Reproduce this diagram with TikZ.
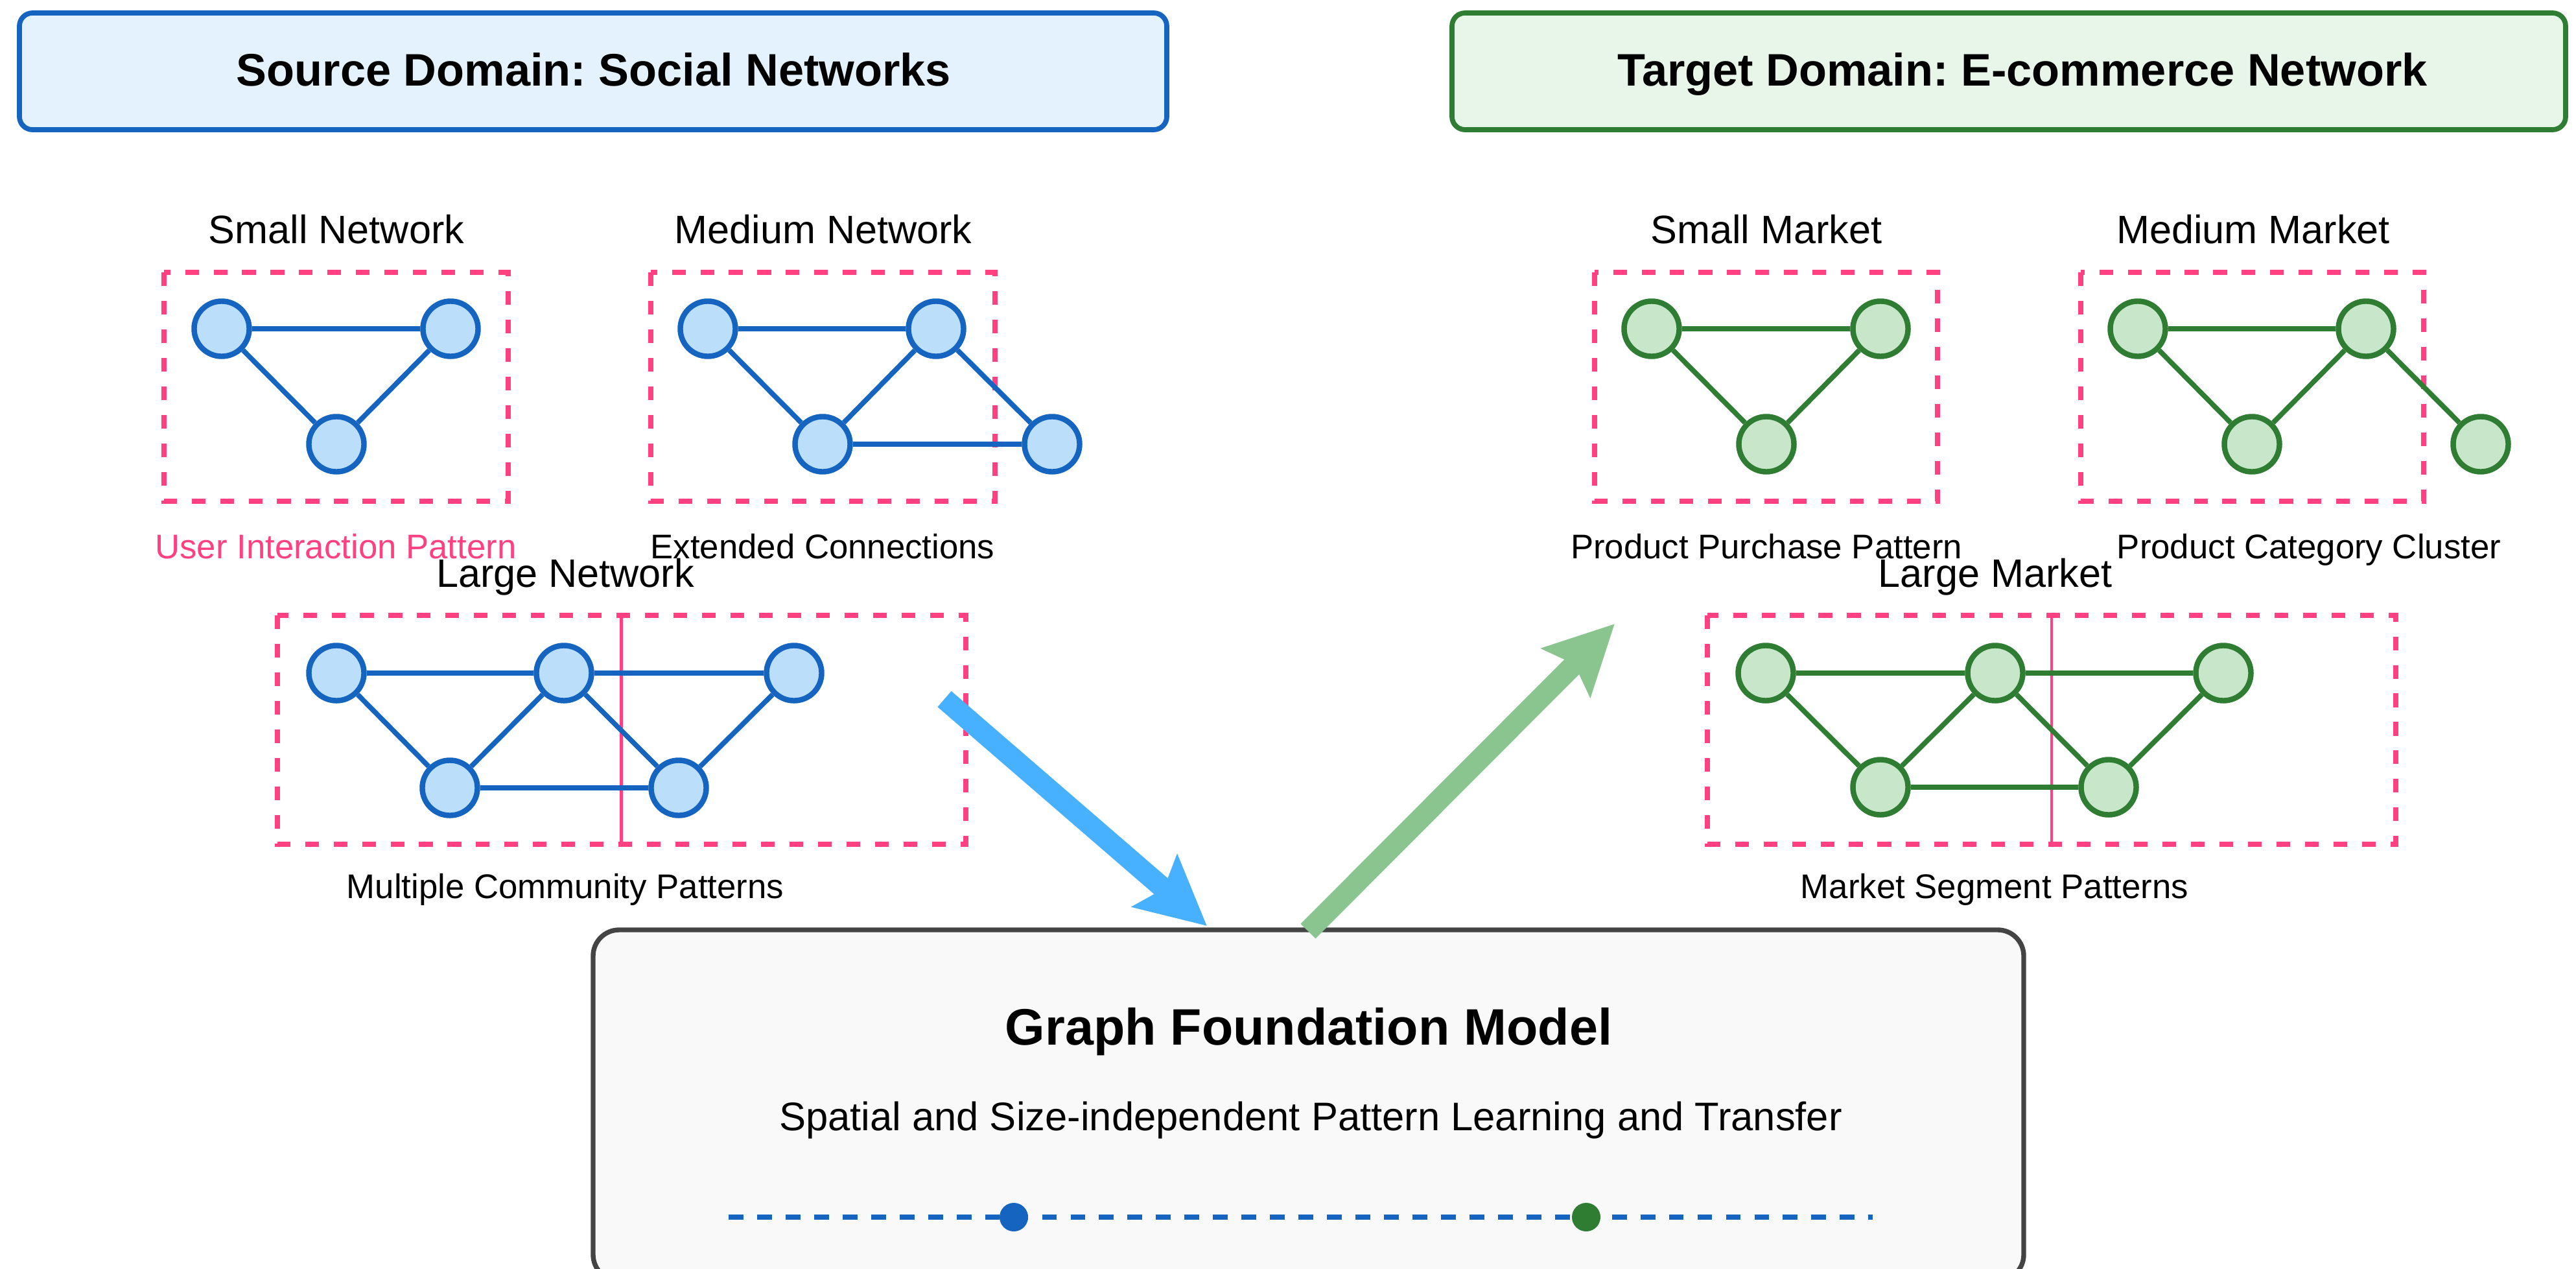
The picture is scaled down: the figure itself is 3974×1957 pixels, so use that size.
\documentclass[tikz,border=0pt]{standalone}
\usepackage{fontspec}
\setmainfont{Liberation Sans}
\usetikzlibrary{arrows.meta}

\definecolor{srcfill}{HTML}{E3F2FD}
\definecolor{srcline}{HTML}{1565C0}
\definecolor{tgtfill}{HTML}{E8F5E9}
\definecolor{tgtline}{HTML}{2E7D32}
\definecolor{srcnode}{HTML}{BBDEFB}
\definecolor{tgtnode}{HTML}{C8E6C9}
\definecolor{patpink}{HTML}{FF4081}
\definecolor{modelfill}{HTML}{F9F9F9}
\definecolor{modelline}{HTML}{444444}
\definecolor{flowblue}{RGB}{72,177,255}
\definecolor{flowgreen}{RGB}{138,196,143}

\begin{document}
\frenchspacing
\begin{tikzpicture}[x=0.01cm, y=-0.01cm,
  header/.style={line width=2.2pt, rounded corners=5.7pt},
  headtext/.style={anchor=base, font=\fontsize{20}{24}\selectfont\bfseries},
  sizelabel/.style={anchor=base, font=\fontsize{17.4}{21}\selectfont},
  patlabel/.style={anchor=base, font=\fontsize{15}{18}\selectfont},
  patbox/.style={draw=patpink, line width=2.3pt, dash pattern=on 6pt off 6.5pt},
  snode/.style={circle, draw=srcline, fill=srcnode, line width=2.4pt, minimum size=0.85cm, inner sep=0pt},
  tnode/.style={circle, draw=tgtline, fill=tgtnode, line width=2.4pt, minimum size=0.85cm, inner sep=0pt},
  sedge/.style={draw=srcline, line width=2.2pt},
  tedge/.style={draw=tgtline, line width=2.2pt},
  flow/.style={line width=9.2pt, -{Stealth[length=30pt, width=29.6pt, inset=5pt]}},
]
\useasboundingbox (0,0) rectangle (3974,1957);
\clip (0,0) rectangle (3974,1957);

% ---------- domain headers ----------
\draw[header, draw=srcline, fill=srcfill] (30,20) rectangle (1800,200);
\node[headtext] (srctitle) at (916,132) {Source Domain: Social Networks};
\draw[header, draw=tgtline, fill=tgtfill] (2240,20) rectangle (3958,200);
\node[headtext] (tgttitle) at (3120,132) {Target Domain: E-commerce Network};

% ---------- source: small network ----------
\node[sizelabel] (smallnet) at (519,375) {Small Network};
\draw[patbox] (253,420) rectangle (784,773);
\node[snode] (s1) at (342,507) {};
\node[snode] (s2) at (695,507) {};
\node[snode] (s3) at (519,685) {};
\draw[sedge] (s1) -- (s2) (s1) -- (s3) (s2) -- (s3);
\node[patlabel, text=patpink] (smallpat) at (518,861) {User Interaction Pattern};

% ---------- source: medium network ----------
\node[sizelabel] (mednet) at (1270,375) {Medium Network};
\draw[patbox] (1004,420) rectangle (1535,773);
\node[snode] (m1) at (1092,507) {};
\node[snode] (m2) at (1444,507) {};
\node[snode] (m3) at (1269,685) {};
\node[snode] (m4) at (1623,685) {};
\draw[sedge] (m1) -- (m2) (m1) -- (m3) (m2) -- (m3) (m2) -- (m4) (m3) -- (m4);
\node[patlabel] (medpat) at (1269,861) {Extended Connections};

% ---------- source: large network ----------
\node[sizelabel] (largenet) at (872,905) {Large Network};
\draw[patbox] (428,949) rectangle (1490,1302);
\draw[draw=patpink, line width=1.4pt] (958.5,949) -- (958.5,1302);
\node[snode] (l1) at (519,1038) {};
\node[snode] (l2) at (870,1038) {};
\node[snode] (l3) at (1225,1038) {};
\node[snode] (l4) at (694,1215) {};
\node[snode] (l5) at (1047,1215) {};
\draw[sedge] (l1) -- (l2) (l2) -- (l3) (l1) -- (l4) (l2) -- (l4)
             (l2) -- (l5) (l3) -- (l5) (l4) -- (l5);
\node[patlabel] (largepat) at (872,1385) {Multiple Community Patterns};

% ---------- target: small market ----------
\node[sizelabel] (smallmkt) at (2725,375) {Small Market};
\draw[patbox] (2460,420) rectangle (2989,773);
\node[tnode] (t1) at (2548,507) {};
\node[tnode] (t2) at (2901,507) {};
\node[tnode] (t3) at (2725,685) {};
\draw[tedge] (t1) -- (t2) (t1) -- (t3) (t2) -- (t3);
\node[patlabel] (smallmpat) at (2725,861) {Product Purchase Pattern};

% ---------- target: medium market ----------
\node[sizelabel] (medmkt) at (3476,375) {Medium Market};
\draw[patbox] (3210,420) rectangle (3739,773);
\node[tnode] (u1) at (3298,507) {};
\node[tnode] (u2) at (3650,507) {};
\node[tnode] (u3) at (3474,685) {};
\node[tnode] (u4) at (3827,685) {};
\draw[tedge] (u1) -- (u2) (u1) -- (u3) (u2) -- (u3) (u2) -- (u4);
\node[patlabel] (medmpat) at (3562,861) {Product Category Cluster};

% ---------- target: large market ----------
\node[sizelabel] (largemkt) at (3078,905) {Large Market};
\draw[patbox] (2634,949) rectangle (3696,1302);
\draw[draw=patpink, line width=1.4pt] (3165,949) -- (3165,1302);
\node[tnode] (v1) at (2724,1038) {};
\node[tnode] (v2) at (3078,1038) {};
\node[tnode] (v3) at (3430,1038) {};
\node[tnode] (v4) at (2901,1214) {};
\node[tnode] (v5) at (3253,1214) {};
\draw[tedge] (v1) -- (v2) (v2) -- (v3) (v1) -- (v4) (v2) -- (v4)
             (v2) -- (v5) (v3) -- (v5) (v4) -- (v5);
\node[patlabel] (largempat) at (3077,1385) {Market Segment Patterns};

% ---------- foundation model ----------
\draw[draw=modelline, fill=modelfill, line width=2.1pt, rounded corners=11.4pt]
  (915,1434) rectangle (3122,1975);
\node[anchor=base, font=\fontsize{22.5}{27}\selectfont\bfseries] (modeltitle) at (2019,1611) {Graph Foundation Model};
\node[anchor=base, font=\fontsize{17.5}{21}\selectfont] (modelsub) at (2022,1743) {Spatial and Size-independent Pattern Learning and Transfer};
\coordinate (linestart) at (1124,1877);
\coordinate (lineend) at (2889,1877);
\draw[draw=srcline, line width=2.2pt, dash pattern=on 6.5pt off 6pt] (linestart) -- (lineend);
\node[circle, fill=srcline, minimum size=0.44cm, inner sep=0pt] (dotsrc) at (1564,1877) {};
\node[circle, fill=tgtline, minimum size=0.44cm, inner sep=0pt] (dottgt) at (2447,1877) {};

% ---------- transfer arrows ----------
\coordinate (intail) at (1457,1078);
\coordinate (inhead) at (1862,1428);
\coordinate (outtail) at (2018,1436);
\coordinate (outhead) at (2491,962);
\draw[flow, draw=flowblue, fill=flowblue] (intail) -- (inhead);
\draw[flow, draw=flowgreen, fill=flowgreen] (outtail) -- (outhead);

\end{tikzpicture}
\end{document}
